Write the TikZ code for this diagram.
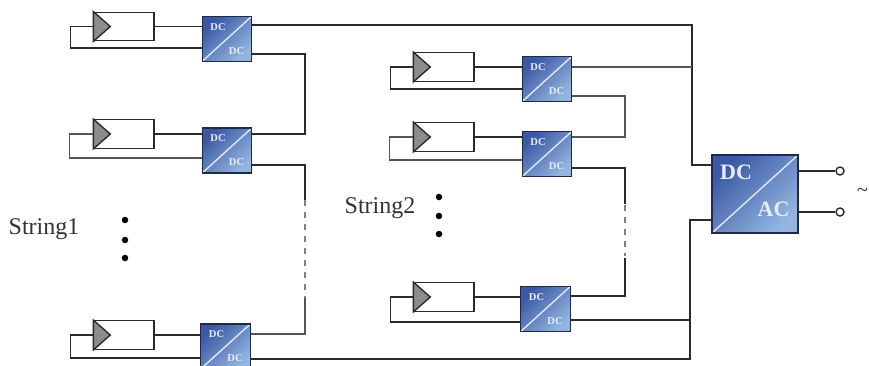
\documentclass[tikz,border=0pt]{standalone}
\usepackage{fontspec}
\setmainfont{Liberation Serif}
\definecolor{wire}{HTML}{2A2A2A}
\definecolor{wirelight}{HTML}{555555}
\definecolor{navy}{HTML}{1F2A4A}
\definecolor{blued}{HTML}{3A58A4}
\definecolor{bluel}{HTML}{92B6E0}
\definecolor{tri}{HTML}{8C8C8C}
\tikzset{
  x=1pt,y=-1pt,
  wireline/.style={draw=wire,line width=1.4pt,line join=miter},
  wiresoft/.style={draw=wirelight,line width=1.4pt,line join=miter},
  wiredash/.style={draw=black!50,line width=1.8pt,dash pattern=on 6pt off 6pt},
  pvbox/.style={draw=wire,fill=white,line width=1.4pt,minimum width=60pt,minimum height=28.5pt,inner sep=0pt},
  pvtri/.style={draw=wire,fill=tri,line width=1.4pt,line join=miter},
  conv/.style={draw=navy,line width=1.3pt,inner sep=0pt,top color=blued,bottom color=bluel,shading angle=45,
    path picture={\draw[white!90!blue,line width=1.4pt] (path picture bounding box.south west) -- (path picture bounding box.north east);}},
  smallconv/.style={conv,minimum width=49.5pt,minimum height=45pt},
  bigconv/.style={conv,minimum width=86pt,minimum height=78pt},
  smalllabel/.style={text=white!92!blue,font=\bfseries\fontsize{10.5}{11}\selectfont,inner sep=0pt},
  biglabel/.style={text=white!92!blue,font=\bfseries\fontsize{22}{24}\selectfont,inner sep=0pt},
  strlabel/.style={text=black!80,font=\fontsize{24}{26}\selectfont,inner sep=0pt},
  terminal/.style={circle,draw=wire,fill=white,line width=1.4pt,minimum size=8pt,inner sep=0pt},
  dotmark/.style={circle,fill=black,minimum size=6.5pt,inner sep=0pt}
}
\newcommand{\pvcell}[3]{%
  \node[pvbox] (#1) at (#2,#3) {};
  \draw[pvtri] (#1.north west) -- ([xshift=17pt]#1.west) -- (#1.south west) -- cycle;
}
\newcommand{\dcdc}[3]{%
  \node[smallconv] (#1) at (#2,#3) {};
  \node[smalllabel] (#1top) at ([shift={(-9,-12)}]#1.center) {DC};
  \node[smalllabel] (#1bot) at ([shift={(9.5,12)}]#1.center) {DC};
}
\begin{document}
\begin{tikzpicture}
\clip (0,0) rectangle (869,365);
\fill[white] (0,0) rectangle (869,365);
% string 1
\pvcell{pa}{124}{26.5}
\pvcell{pb}{124}{134}
\pvcell{pc}{124}{335}
\dcdc{ca}{227}{38.8}
\dcdc{cb}{227}{150.5}
\dcdc{cc}{225.5}{346.5}
% string 2
\pvcell{pd}{444}{67}
\pvcell{pe}{444}{137}
\pvcell{pf}{444}{297}
\dcdc{cd}{547}{79}
\dcdc{ce}{547}{154}
\dcdc{cf}{545.5}{309}
% inverter
\node[bigconv] (inv) at (755,194) {};
\node[biglabel] (invdc) at (736,172) {DC};
\node[biglabel] (invac) at (773.5,209) {AC};
\node[terminal] (ta) at (840,171) {};
\node[terminal] (tb) at (840,212) {};
\draw[wireline] (inv.east |- ta) -- (ta);
\draw[wireline] (inv.east |- tb) -- (tb);
\node[inner sep=0pt,text=wire,font=\fontsize{20}{22}\selectfont] (tilde) at (862.5,192) {\textasciitilde};
% bend coordinates
\coordinate (busa) at (692,165);
\coordinate (busb) at (690,220);
\coordinate (ja) at (305,54);
\coordinate (jb) at (305,165);
\coordinate (jc) at (305,334);
\coordinate (jd) at (625,96);
\coordinate (je) at (625,168);
\coordinate (jf) at (625,296);
% panel to converter
\foreach \p/\c in {pa/ca,pb/cb,pc/cc,pd/cd,pe/ce,pf/cf}
  \draw[wireline] (\p.east) -- (\p.east -| \c.west);
% return loops
\draw[wireline] (pa.west) -- ++(-23,0) |- (ca.west |- 0,48);
\draw[wiresoft] (pb.west) -- ++(-24,0) |- (cb.west |- 0,158);
\draw[wireline] (pc.west) -- ++(-23,0) |- (cc.west |- 0,358);
\draw[wireline] (pd.west) -- ++(-23,0) |- (cd.west |- 0,89);
\draw[wiresoft] (pe.west) -- ++(-24,0) |- (ce.west |- 0,160);
\draw[wireline] (pf.west) -- ++(-23,0) |- (cf.west |- 0,322);
% main buses
\draw[wireline] (ca.east |- 0,25) -| (busa) -- (busa -| inv.west);
\draw[wiresoft] (cd.east |- 0,67) -- (692,67);
\draw[wireline] (cc.east |- 0,359) -| (busb) -- (busb -| inv.west);
\draw[wireline] (cf.east |- 0,320) -- (690,320);
% series links string 1
\draw[wireline] (ca.east |- ja) -- (ja) -- (305,134) -- (cb.east |- 0,134);
\draw[wireline] (cb.east |- jb) -- (jb) -- (305,200);
\draw[wiredash] (305,200) -- (305,298);
\draw[wiresoft] (305,298) -- (jc) -- (cc.east |- jc);
% series links string 2
\draw[wiresoft] (cd.east |- jd) -- (jd) -- (625,137) -- (ce.east |- 0,137);
\draw[wireline] (ce.east |- je) -- (je) -- (625,204);
\draw[wiredash] (625,205) -- (625,256);
\draw[wireline] (625,258) -- (jf) -- (cf.east |- jf);
% dots
\foreach \n/\x/\y in {da/125/220,db/125/240,dc/125/258,dd/439/197,de/439/216,df/439/234}
  \node[dotmark] (\n) at (\x,\y) {};
\node[strlabel] (s1) at (44,229) {String1};
\node[strlabel] (s2) at (380,208) {String2};
\end{tikzpicture}
\end{document}
